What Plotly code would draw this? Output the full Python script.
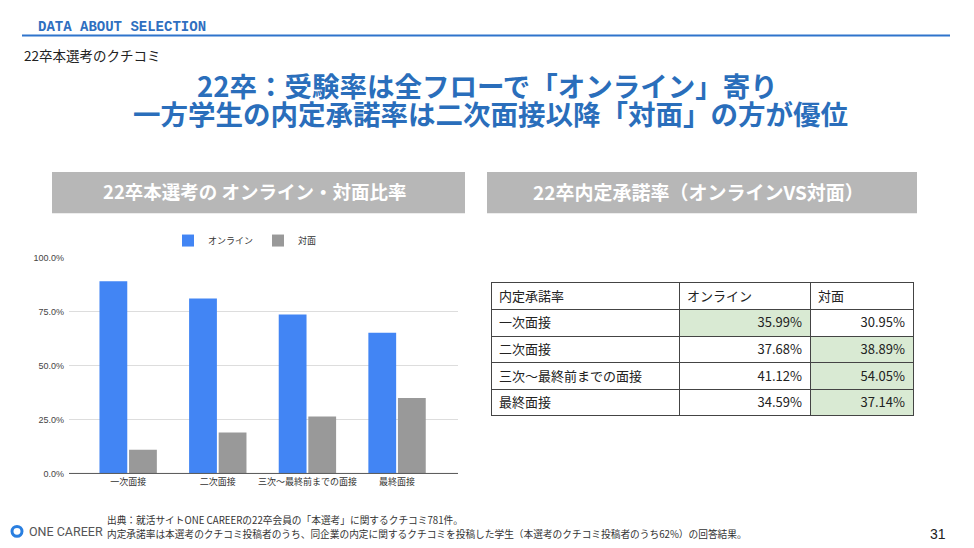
import plotly.graph_objects as go

W, H = 974, 548
JP = "Noto Sans CJK JP"
OX, OY = 8, 8  # page body margin offset

# ---- data ----
categories = ["一次面接", "二次面接", "三次〜最終前までの面接", "最終面接"]
online_share = [0.89, 0.81, 0.736, 0.651]
face_share = [0.11, 0.19, 0.264, 0.349]
y_ticks = [0, 0.25, 0.5, 0.75, 1.0]

table_header = ["内定承諾率", "オンライン", "対面"]
table_rows = ["一次面接", "二次面接", "三次〜最終前までの面接", "最終面接"]
accept_online = ["35.99%", "37.68%", "41.12%", "34.59%"]
accept_face = ["30.95%", "38.89%", "54.05%", "37.14%"]
green_online = [True, False, False, False]
green_face = [False, True, True, True]


def px(x):
    return (x - OX) / W


def py(y):
    return 1 - (y - OY) / H


fig = go.Figure()

fig.add_trace(go.Bar(x=categories, y=online_share, name="オンライン",
                     marker=dict(color="#4285f4", line=dict(width=0))))
fig.add_trace(go.Bar(x=categories, y=face_share, name="対面",
                     marker=dict(color="#999999", line=dict(width=0))))

WHITE, GREEN = "#ffffff", "#d9ead3"
fig.add_trace(go.Table(
    domain=dict(x=[px(491), px(913)], y=[py(424), py(283)]),
    columnwidth=[188, 131, 103],
    header=dict(values=table_header, align="left", height=26.6,
                fill_color="white", line=dict(color="#444444", width=1),
                font=dict(family=JP, size=13, color="#222")),
    cells=dict(values=[table_rows, accept_online, accept_face],
               align=["left", "right", "right"], height=26.6,
               fill_color=[[WHITE] * 4,
                           [GREEN if g else WHITE for g in green_online],
                           [GREEN if g else WHITE for g in green_face]],
               line=dict(color="#444444", width=1),
               font=dict(family=JP, size=13, color="#222")),
))

fig.update_layout(
    width=W, height=H, margin=dict(l=0, r=0, t=0, b=0),
    paper_bgcolor="white", plot_bgcolor="white",
    font=dict(family=JP),
    barmode="group", bargap=0.34, bargroupgap=0.06,
    showlegend=True,
    legend=dict(orientation="h", x=px(245), y=py(225), xanchor="center", yanchor="top",
                font=dict(family=JP, size=9, color="#333"), itemwidth=30,
                bgcolor="rgba(0,0,0,0)"),
    xaxis=dict(domain=[px(69), px(458)], range=[-0.66, 3.68], showgrid=False,
               tickfont=dict(family=JP, size=9, color="#333"), ticks="",
               ticklabelstandoff=2,
               showline=False, zeroline=False),
    yaxis=dict(domain=[py(477), py(257)], range=[0, 1.0], tickvals=y_ticks,
               tickformat=".1%", gridcolor="#dddddd", gridwidth=1,
               tickfont=dict(family="Liberation Sans", size=9, color="#444"),
               ticklabelstandoff=4,
               zeroline=False, showline=False, ticks=""),
)

shapes = [
    # header rule
    dict(type="line", xref="paper", yref="paper", x0=px(22), x1=px(950), y0=py(31), y1=py(31),
         line=dict(color="#2f74cc", width=2)),
    # baseline of bar chart
    dict(type="line", xref="paper", yref="paper", x0=px(69), x1=px(458), y0=py(477), y1=py(477),
         line=dict(color="#555555", width=1)),
    # grey banners
    dict(type="rect", xref="paper", yref="paper", x0=px(52), x1=px(465), y0=py(212), y1=py(170),
         fillcolor="#b7b7b7", line=dict(width=0), layer="below"),
    dict(type="rect", xref="paper", yref="paper", x0=px(487), x1=px(917), y0=py(212), y1=py(170),
         fillcolor="#b7b7b7", line=dict(width=0), layer="below"),
    # logo ring
    dict(type="circle", xref="paper", yref="paper", x0=px(12), x1=px(22), y0=py(541), y1=py(531),
         fillcolor="white", line=dict(color="#2a7fe0", width=3)),
]

annotations = [
    dict(text="<b>DATA ABOUT SELECTION</b>", x=px(36), y=py(22.5), xanchor="left", yanchor="middle",
         font=dict(family="Liberation Mono", size=14, color="#2f6fc0")),
    dict(text="22卒本選考のクチコミ", x=px(22), y=py(50.5), xanchor="left", yanchor="middle",
         font=dict(family=JP, size=13.5, color="#222")),
    dict(text="<b>22卒：受験率は全フローで「オンライン」寄り</b>", x=px(487), y=py(81),
         xanchor="center", yanchor="middle", font=dict(family=JP, size=27.5, color="#2a6ebb")),
    dict(text="<b>一方学生の内定承諾率は二次面接以降「対面」の方が優位</b>", x=px(490), y=py(109.5),
         xanchor="center", yanchor="middle", font=dict(family=JP, size=27.5, color="#2a6ebb")),
    dict(text="<b>22卒本選考の オンライン・対面比率</b>", x=px(255), y=py(189.5), xanchor="center",
         yanchor="middle", font=dict(family=JP, size=18.5, color="white")),
    dict(text="<b>22卒内定承諾率（オンラインVS対面）</b>", x=px(698), y=py(189.5), xanchor="center",
         yanchor="middle", font=dict(family=JP, size=19, color="white")),
    dict(text="ONE CAREER", x=px(27), y=py(536.5), xanchor="left", yanchor="middle",
         font=dict(family="Roboto", size=12.5, color="#555")),
    dict(text="出典：就活サイトONE CAREERの22卒会員の「本選考」に関するクチコミ781件。", x=px(105), y=py(524),
         xanchor="left", yanchor="middle", font=dict(family=JP, size=9.7, color="#333")),
    dict(text="内定承諾率は本選考のクチコミ投稿者のうち、同企業の内定に関するクチコミを投稿した学生（本選考のクチコミ投稿者のうち62%）の回答結果。",
         x=px(105), y=py(539), xanchor="left", yanchor="middle", font=dict(family=JP, size=9.7, color="#333")),
    dict(text="31", x=px(948), y=py(538.5), xanchor="right", yanchor="middle",
         font=dict(family="Liberation Sans", size=14, color="#222")),
]
for a in annotations:
    a.update(xref="paper", yref="paper", showarrow=False)

fig.update_layout(shapes=shapes, annotations=annotations)
fig.write_html("out.html")
